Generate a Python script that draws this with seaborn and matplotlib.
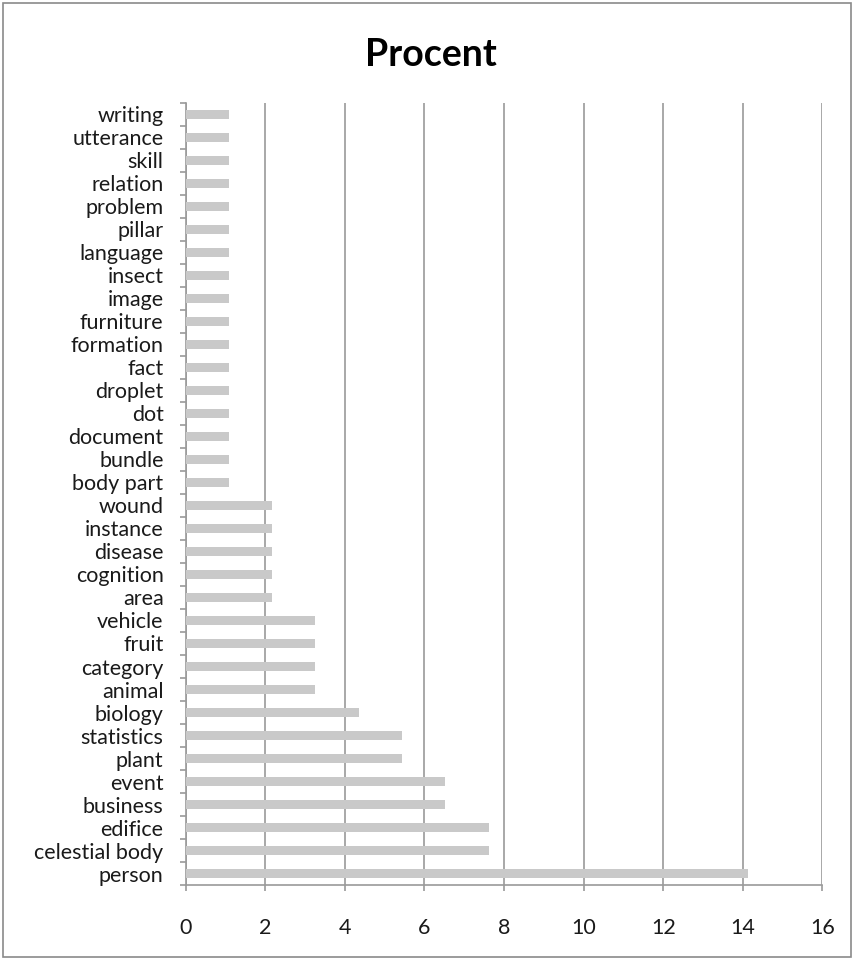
import matplotlib
matplotlib.use("Agg")
import matplotlib.pyplot as plt
from matplotlib.patches import Rectangle
from matplotlib.ticker import MultipleLocator
import seaborn as sns
import pandas as pd

categories = [
    "writing", "utterance", "skill", "relation", "problem", "pillar",
    "language", "insect", "image", "furniture", "formation", "fact",
    "droplet", "dot", "document", "bundle", "body part", "wound",
    "instance", "disease", "cognition", "area", "vehicle", "fruit",
    "category", "animal", "biology", "statistics", "plant", "event",
    "business", "edifice", "celestial body", "person",
]
procent = [
    1.09, 1.09, 1.09, 1.09, 1.09, 1.09,
    1.09, 1.09, 1.09, 1.09, 1.09, 1.09,
    1.09, 1.09, 1.09, 1.09, 1.09, 2.17,
    2.17, 2.17, 2.17, 2.17, 3.26, 3.26,
    3.26, 3.26, 4.35, 5.43, 5.43, 6.52,
    6.52, 7.61, 7.61, 14.13,
]
x_ticks = [0, 2, 4, 6, 8, 10, 12, 14, 16]

df = pd.DataFrame({"category": categories, "procent": procent})

sns.set_theme(style="white")
plt.rcParams["font.family"] = ["Lato", "DejaVu Sans"]

GRID = "#9a9a9a"
BAR = "#c9c9c9"
TEXT = "#1a1a1a"

fig = plt.figure(figsize=(8.54, 9.6), dpi=100)
ax = fig.add_axes([0.2175, 0.078, 0.7455, 0.815])

sns.barplot(data=df, x="procent", y="category", orient="h", color=BAR,
            width=0.38, saturation=1, ax=ax, zorder=3)
for p in ax.patches:
    p.set_edgecolor("none")

ax.set_xlim(0, 16)
ax.set_ylim(len(categories) - 0.5, -0.5)
ax.set_xticks(x_ticks)
ax.set_xticklabels([str(t) for t in x_ticks], fontsize=15.5, color=TEXT)
ax.set_xlabel("")
ax.set_ylabel("")

ax.xaxis.grid(True, color=GRID, linewidth=1.2, zorder=0)
ax.yaxis.grid(False)

# category labels on major ticks without marks; marks sit between categories
ax.tick_params(axis="y", which="major", length=0, pad=16, labelsize=15.5,
               labelcolor=TEXT)
ax.yaxis.set_minor_locator(MultipleLocator(1, offset=0.5))
ax.tick_params(axis="y", which="minor", length=4.5, width=1.2, color=GRID,
               left=True, direction="out")
ax.tick_params(axis="x", which="major", length=4.5, width=1.2, color=GRID,
               bottom=True, direction="out", pad=19)

for side in ["top", "right"]:
    ax.spines[side].set_visible(False)
for side in ["left", "bottom"]:
    ax.spines[side].set_color(GRID)
    ax.spines[side].set_linewidth(1.2)

fig.text(0.504, 0.943, "Procent", ha="center", va="center",
         fontsize=27, fontweight="bold", color="black")

fig.patches.append(Rectangle((0.004, 0.003), 0.993, 0.994,
                             transform=fig.transFigure, fill=False,
                             edgecolor="#8a8a8a", linewidth=1.2))

fig.savefig("out.png", dpi=100, facecolor="white")
